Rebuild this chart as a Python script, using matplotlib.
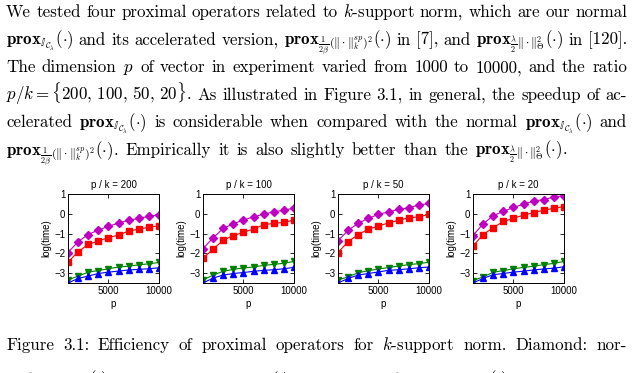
import matplotlib
matplotlib.use("Agg")
import matplotlib.pyplot as plt

plt.rcParams['mathtext.fontset'] = 'cm'
plt.rcParams['font.family'] = 'Liberation Sans'

# --- data (log(time)) ---
p = [1000, 2000, 3000, 4000, 5000, 6000, 7000, 8000, 9000, 10000]
ratios = [200, 100, 50, 20]

# diamond: normal prox
diamond = [
    [-1.96, -1.41, -1.05, -0.82, -0.64, -0.46, -0.33, -0.23, -0.13, -0.05],
    [-1.76, -1.22, -0.74, -0.5, -0.32, -0.15, -0.02, 0.10, 0.18, 0.29],
    [-1.36, -0.84, -0.48, -0.23, -0.03, 0.10, 0.22, 0.31, 0.44, 0.52],
    [-1.10, -0.51, -0.10, 0.12, 0.32, 0.49, 0.64, 0.72, 0.85, 0.92],
]
# square
square = [
    [-2.45, -1.92, -1.55, -1.38, -1.20, -1.08, -0.87, -0.78, -0.68, -0.61],
    [-2.25, -1.79, -1.34, -1.10, -0.94, -0.77, -0.56, -0.48, -0.44, -0.31],
    [-1.96, -1.41, -1.05, -0.78, -0.62, -0.46, -0.33, -0.20, -0.16, -0.02],
    [-1.63, -1.05, -0.70, -0.39, -0.23, -0.07, 0.06, 0.18, 0.28, 0.36],
]
# downward triangle
tri_down = [
    [-3.35, -3.15, -2.95, -2.87, -2.78, -2.69, -2.65, -2.58, -2.53, -2.46],
    [-3.35, -3.10, -2.91, -2.81, -2.74, -2.69, -2.61, -2.56, -2.50, -2.41],
    [-3.35, -3.19, -2.98, -2.88, -2.79, -2.72, -2.64, -2.57, -2.52, -2.45],
    [-3.38, -3.19, -2.96, -2.87, -2.78, -2.71, -2.65, -2.57, -2.51, -2.41],
]
# upward triangle
tri_up = [
    [-3.50, -3.27, -3.15, -3.02, -2.95, -2.90, -2.84, -2.81, -2.78, -2.73],
    [-3.50, -3.25, -3.10, -3.02, -2.97, -2.91, -2.86, -2.83, -2.78, -2.71],
    [-3.50, -3.27, -3.10, -3.02, -2.94, -2.86, -2.83, -2.78, -2.73, -2.69],
    [-3.50, -3.27, -3.08, -3.02, -2.95, -2.90, -2.84, -2.79, -2.75, -2.68],
]

# --- page text ---
P1 = r"$\mathbf{prox}_{\mathbb{I}_{\mathcal{C}_\lambda}}(\cdot)$"
P2 = r"$\mathbf{prox}_{\frac{1}{2\beta}(\|\cdot\|_k^{sp})^2}(\cdot)$"
P3 = r"$\mathbf{prox}_{\frac{\lambda}{2}\|\cdot\|_\Theta^2}(\cdot)$"

paragraph = [
    "We tested four proximal operators related to $k$-support norm, which are our normal",
    P1 + " and its accelerated version, " + P2 + " in [7], and " + P3 + " in [120].",
    "The dimension $p$ of vector in experiment varied from 1000 to 10000, and the ratio",
    r"$p/k=\{200,\,100,\,50,\,20\}$. As illustrated in Figure 3.1, in general, the speedup of ac-",
    "celerated " + P1 + " is considerable when compared with the normal " + P1 + " and",
    P2 + ". Empirically it is also slightly better than the " + P3 + ".",
]
caption = [
    "Figure 3.1: Efficiency of proximal operators for $k$-support norm. Diamond: nor-",
    "mal " + P1 + "; Square: " + P2 + "; Down-triangle: " + P3 + ";",
]

W, H = 633, 373
fig = plt.figure(figsize=(W / 100, H / 100), dpi=100)
renderer = fig.canvas.get_renderer()


def put_line(line, y_px, justify=True, x0=6, x1=627, size=12.2):
    # split on spaces, but keep math pieces whole
    tokens, cur, in_math = [], "", False
    for ch in line:
        if ch == "$":
            in_math = not in_math
        if ch == " " and not in_math:
            if cur:
                tokens.append(cur)
            cur = ""
        else:
            cur += ch
    if cur:
        tokens.append(cur)
    items = [fig.text(0, 1 - y_px / H, tk, fontsize=size, family="cmr10",
                      va="baseline") for tk in tokens]
    widths = [t.get_window_extent(renderer).width for t in items]
    gap = size * 100 / 72 * 0.42
    if justify and len(items) > 1:
        gap = (x1 - x0 - sum(widths)) / (len(items) - 1)
    x = x0
    for t, w in zip(items, widths):
        t.set_x(x / W)
        x += w + gap


for i, line in enumerate(paragraph):
    put_line(line, 17 + 27.6 * i, justify=(i < len(paragraph) - 1))
put_line(caption[0], 350)
put_line(caption[1], 385, justify=False)

# --- plots ---
purple = "#c000c0"
lefts = [68, 203, 338, 473]
for i, r in enumerate(ratios):
    ax = fig.add_axes([lefts[i] / W, 1 - 283 / H, 91 / W, 89 / H])
    ax.plot(p, diamond[i], "-D", color=purple, ms=4.5, lw=0.8)
    ax.plot(p, square[i], "-s", color="red", ms=4.5, lw=0.8)
    ax.plot(p, tri_down[i], "-v", color="green", ms=5, lw=0.8)
    ax.plot(p, tri_up[i], "-^", color="blue", ms=5, lw=0.8)
    ax.set_xlim(1000, 10000)
    ax.set_ylim(-3.5, 1)
    ax.set_xticks([5000, 10000])
    ax.set_yticks([-3, -2, -1, 0, 1])
    ax.tick_params(direction="in", top=True, right=True, length=3,
                   width=0.6, labelsize=7, pad=2)
    for s in ax.spines.values():
        s.set_linewidth(0.7)
    ax.set_title(f"p / k = {r}", fontsize=7, pad=4)
    ax.set_xlabel("p", fontsize=7, labelpad=2)
    ax.set_ylabel("log(time)", fontsize=7, labelpad=2)

fig.savefig("out.png", dpi=100, facecolor="white")
